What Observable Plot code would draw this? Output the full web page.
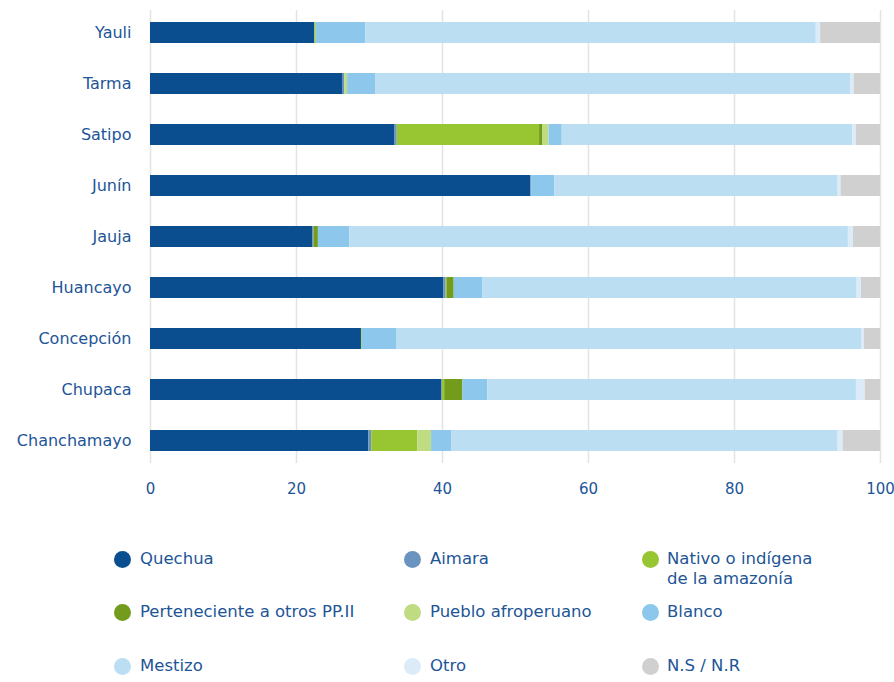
<!DOCTYPE html>
<html><head><meta charset="utf-8">
<script src="https://cdn.jsdelivr.net/npm/d3@7"></script>
<script src="https://cdn.jsdelivr.net/npm/@observablehq/plot@0.6"></script>
<style>
body{margin:0;background:#fff;font-family:"DejaVu Sans",sans-serif;}
#wrap{position:relative;width:894px;height:682px;overflow:hidden}
#chart{position:absolute;left:0;top:0}
.leg{position:absolute;font-size:16.5px;color:#1d5597;line-height:20px;white-space:nowrap}
.dot{position:absolute;width:17px;height:17px;border-radius:50%}
</style></head><body><div id="wrap"><div id="chart"></div></div>
<script>
const regions = ["Yauli","Tarma","Satipo","Junín","Jauja","Huancayo","Concepción","Chupaca","Chanchamayo"];
const categories = ["Quechua","Aimara","Nativo o indígena de la amazonía","Perteneciente a otros PP.II","Pueblo afroperuano","Blanco","Mestizo","Otro","N.S / N.R"];
const legendLabels = ["Quechua","Aimara","Nativo o indígena<br>de la amazonía","Perteneciente a otros PP.II","Pueblo afroperuano","Blanco","Mestizo","Otro","N.S / N.R"];
const colors = ["#0b4e8f","#6b93bf","#98c532","#739c1c","#c0dc82","#8dc8ec","#bbdef3","#dbebf7","#d0d0d0"];
const xTicks = [0,20,40,60,80,100];

const quechua    = [22.5,26.3,33.5,52.1,22.2,40.2,28.9,39.9,29.9];
const aimara     = [0,0.3,0.3,0.1,0.2,0.3,0,0.1,0.4];
const nativo     = [0.2,0,19.5,0,0,0.1,0.1,0.3,6.3];
const otrosPPII  = [0,0,0.4,0,0.6,1.0,0,2.5,0];
const afro       = [0,0.4,0.9,0,0,0,0,0,1.9];
const blanco     = [6.8,3.9,1.8,3.2,4.3,3.9,4.7,3.4,2.8];
const mestizo    = [61.7,65.0,39.8,38.8,68.3,51.3,63.7,50.5,52.9];
const otro       = [0.6,0.5,0.5,0.4,0.7,0.6,0.4,1.2,0.7];
const nsnr       = [8.2,3.6,3.3,5.4,3.7,2.6,2.2,2.1,5.1];

const series = [quechua,aimara,nativo,otrosPPII,afro,blanco,mestizo,otro,nsnr];
const data = [];
regions.forEach((r,i)=>{
  categories.forEach((c,j)=>{
    data.push({region:r, cat:c, value:series[j][i]});
  });
});

const textColor = "#1d5597";
const plot = Plot.plot({
  width: 894,
  height: 510,
  marginTop: 10,
  marginBottom: 47,
  marginLeft: 150,
  marginRight: 14,
  style: {fontFamily: '"DejaVu Sans", sans-serif', fontSize: "16px", color: textColor, background: "#fff"},
  x: {domain:[0,100], label: null},
  y: {domain: regions, label: null, tickSize: 0, tickPadding: 19, paddingInner: 0.59, paddingOuter: 0.225},
  color: {domain: categories, range: colors},
  marks: [
    Plot.gridX(xTicks, {stroke: "#e3e3e3", strokeOpacity: 1, strokeWidth: 1.5}),
    Plot.barX(data, {x: "value", y: "region", fill: "cat", order: categories}),
    Plot.axisX(xTicks, {tickSize: 0, tickPadding: 20, fontSize: 15, label: null})
  ]
});
document.getElementById("chart").appendChild(plot);

// legend
const wrap = document.getElementById("wrap");
const colX = [122, 412, 650];
const textX = [140, 430, 667];
const rowY = [559, 612, 666];
categories.forEach((c,i)=>{
  const col = i % 3, row = Math.floor(i/3);
  const d = document.createElement("div");
  d.className = "dot";
  d.style.background = colors[i];
  d.style.left = (colX[col]-8.5)+"px";
  d.style.top = (rowY[row]-8.5)+"px";
  wrap.appendChild(d);
  const t = document.createElement("div");
  t.className = "leg";
  t.innerHTML = legendLabels[i];
  t.style.left = textX[col]+"px";
  t.style.top = (rowY[row]-10)+"px";
  wrap.appendChild(t);
});
</script></body></html>
